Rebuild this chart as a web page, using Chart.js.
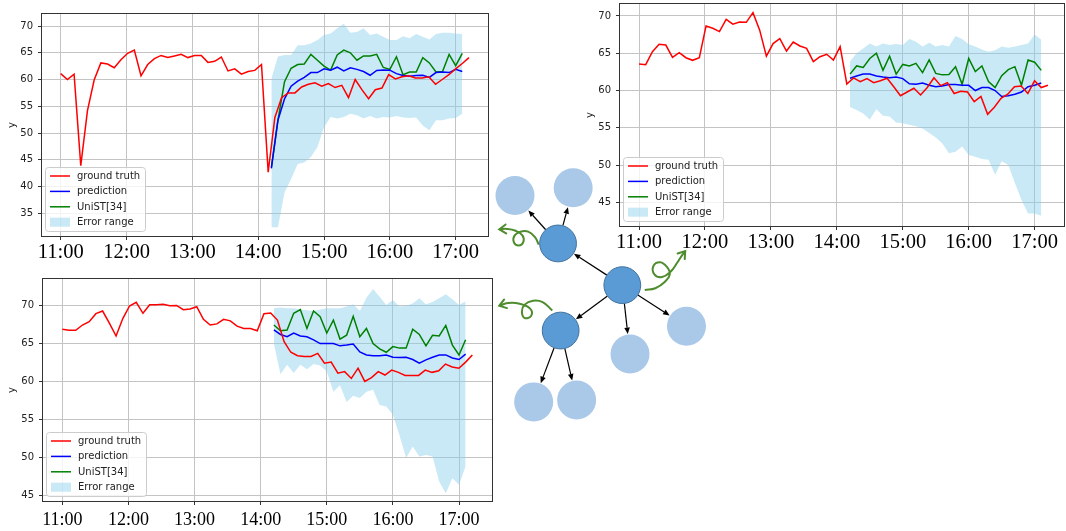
<!DOCTYPE html>
<html>
<head>
<meta charset="utf-8">
<script src="https://cdn.jsdelivr.net/npm/chart.js@4.4.0/dist/chart.umd.min.js"></script>
<style>
    body { margin: 0; background: #fff; }
    #page { position: relative; width: 1066px; height: 531px; overflow: hidden; }
    canvas { position: absolute; }
</style>
</head>
<body>
<div id="page">
    <canvas id="chart1" width="495" height="262" style="left:0;top:0"></canvas>
    <canvas id="chart2" width="486" height="260" style="left:580px;top:0"></canvas>
    <canvas id="chart3" width="500" height="261" style="left:0;top:270px"></canvas>
    <canvas id="tree" width="1066" height="531" style="left:0;top:0"></canvas>
</div>
<script>
'use strict';

var HOUR_TICKS = [0, 60, 120, 180, 240, 300, 360];
var HOUR_LABELS = ['11:00', '12:00', '13:00', '14:00', '15:00', '16:00', '17:00'];
var Y_TICKS_1 = [35, 40, 45, 50, 55, 60, 65, 70];
var Y_TICKS_2 = [45, 50, 55, 60, 65, 70];
var Y_TICKS_3 = [45, 50, 55, 60, 65, 70];

var SERIES_LABELS = ['ground truth', 'prediction', 'UniST[34]', 'Error range'];

// minutes after 11:00
var TRUTH_STEP = 6.1;
var PRED_START = 192;
var PRED_STEP = 6;

var truth1 = [61.1, 60.0, 61.0, 43.9, 54.2, 59.9, 63.1, 62.9, 62.2, 63.7, 64.9, 65.5, 60.7, 62.8, 63.9, 64.5,
    64.1, 64.4, 64.7, 64.1, 64.5, 64.5, 63.2, 63.4, 64.2, 61.6, 62.0, 61.0, 61.5, 61.7, 62.8, 42.7,
    52.9, 56.6, 57.5, 57.5, 58.6, 59.1, 59.4, 58.75, 59.25, 58.5, 58.9, 56.6, 60.0, 58.1, 56.4, 58.1,
    58.4, 60.9, 60.1, 60.5, 60.7, 60.3, 60.3, 60.5, 59.1, 60.0, 60.9, 62.0, 63.0, 64.1];
var pred1 = [43.4, 52.4, 56.4, 58.75, 59.7, 60.4, 61.3, 61.3, 62.0, 61.75, 62.3, 61.6, 62.2, 61.9, 61.5,
    60.8, 61.7, 61.8, 61.75, 61.1, 60.75, 60.6, 60.75, 60.8, 60.4, 61.3, 61.4, 61.3, 61.9, 61.5];
var unist1 = [43.6, 52.4, 59.6, 62.1, 62.8, 62.9, 64.7, 63.6, 62.5, 61.75, 64.6, 65.5, 65.0, 63.6, 64.4,
    64.4, 64.7, 62.25, 61.9, 64.25, 60.9, 61.4, 61.4, 64.1, 63.1, 61.4, 61.5, 64.7, 62.6, 64.9];
var upper1 = [60.2, 64.3, 64.6, 64.6, 66.4, 66.4, 66.75, 67.4, 68.3, 68.6, 69.6, 70.4, 68.75, 68.9, 69.6,
    68.3, 68.6, 68.0, 67.4, 67.4, 68.1, 67.7, 68.5, 68.0, 67.5, 68.5, 68.75, 68.75, 68.6, 68.5];
var lower1 = [32.4, 32.4, 38.9, 41.4, 44.2, 44.5, 45.5, 47.4, 51.1, 53.0, 52.7, 53.0, 53.6, 53.3, 52.7,
    53.2, 52.7, 53.0, 52.9, 53.2, 52.9, 52.8, 52.9, 51.4, 50.5, 52.4, 52.4, 52.7, 52.8, 53.6];

var truth2 = [63.56, 63.47, 65.2, 66.2, 66.1, 64.45, 65.08, 64.4, 64.05, 64.4, 68.66, 68.35, 67.9, 69.55,
    68.9, 69.2, 69.15, 70.45, 68.1, 64.6, 66.3, 66.96, 65.3, 66.5, 65.97, 65.66, 63.87, 64.54, 64.86, 64.1,
    65.88, 60.88, 61.7, 61.2, 61.6, 61.05, 61.3, 61.65, 60.5, 59.3, 59.8, 60.3, 59.4, 60.4, 61.7, 60.65,
    61.05, 59.6, 59.9, 59.8, 58.5, 59.2, 56.8, 57.75, 58.95, 59.5, 60.5, 60.6, 59.6, 61.3, 60.4, 60.7];
var pred2 = [61.65, 61.95, 62.2, 62.2, 61.95, 61.8, 61.7, 61.8, 61.6, 60.9, 60.85, 61.0, 60.7, 60.5, 60.6,
    60.8, 60.8, 60.7, 60.7, 60.0, 60.4, 60.4, 60.0, 59.2, 59.3, 59.5, 59.8, 60.5, 60.7, 61.0];
var unist2 = [62.2, 63.3, 63.1, 64.3, 65.0, 62.7, 64.6, 62.2, 63.5, 63.3, 63.65, 62.4, 64.1, 62.3, 62.1,
    62.15, 63.2, 60.85, 64.3, 62.55, 63.3, 61.2, 60.4, 62.0, 62.8, 63.2, 60.7, 64.1, 63.8, 62.7];
var upper2 = [63.9, 65.0, 65.65, 66.3, 65.9, 66.3, 66.1, 66.25, 66.1, 66.9, 66.55, 65.9, 66.4, 65.9, 66.1,
    65.9, 67.3, 66.9, 66.2, 65.9, 65.5, 65.2, 65.4, 65.9, 65.75, 65.9, 66.1, 66.3, 67.5, 66.8];
var lower2 = [57.8, 57.4, 56.9, 56.1, 57.5, 56.6, 56.5, 55.7, 55.6, 55.4, 55.2, 54.9, 54.3, 53.7, 52.9,
    51.6, 51.8, 52.5, 51.35, 51.1, 50.8, 50.7, 48.7, 50.5, 50.0, 47.6, 45.3, 43.5, 43.5, 43.2];

var truth3 = [66.9, 66.75, 66.75, 67.45, 67.9, 68.95, 69.3, 67.7, 66.0, 68.3, 69.96, 70.45, 69.0, 70.13,
    70.13, 70.2, 70.0, 70.04, 69.47, 69.56, 69.87, 68.2, 67.45, 67.6, 68.2, 68.0, 67.3, 67.0, 67.0, 66.7,
    68.95, 69.04, 68.1, 65.25, 63.85, 63.4, 63.3, 63.3, 63.7, 62.4, 62.55, 61.1, 61.3, 60.4, 61.75, 60.0,
    60.5, 61.3, 60.85, 61.5, 61.2, 60.8, 60.8, 60.8, 61.5, 61.2, 61.4, 62.3, 61.9, 61.75, 62.55, 63.5];
var pred3 = [66.8, 66.2, 65.9, 66.4, 66.0, 65.9, 65.5, 65.0, 65.0, 65.0, 64.7, 64.8, 64.95, 63.9, 63.5,
    63.4, 63.4, 63.5, 63.2, 63.15, 63.2, 62.9, 62.4, 62.85, 63.2, 63.5, 63.5, 63.1, 62.9, 63.6];
var unist3 = [67.45, 66.7, 66.8, 69.0, 69.5, 67.0, 69.3, 68.55, 66.4, 68.1, 65.6, 66.1, 68.6, 65.9, 67.0,
    65.0, 64.3, 63.85, 64.6, 64.4, 64.4, 66.9, 66.2, 64.7, 66.1, 66.0, 67.4, 64.8, 63.5, 65.5];
var upper3 = [69.65, 69.75, 69.65, 69.65, 69.5, 69.4, 69.3, 69.5, 69.65, 69.65, 69.65, 69.9, 70.2, 69.3,
    71.05, 72.2, 71.2, 70.1, 70.75, 69.9, 70.0, 70.3, 71.0, 70.2, 70.5, 71.0, 71.5, 70.85, 70.1, 70.6];
var lower3 = [65.0, 60.95, 62.2, 61.1, 62.2, 61.6, 62.3, 62.1, 61.3, 58.65, 59.5, 57.3, 58.1, 57.8, 58.65,
    58.9, 56.9, 56.7, 55.6, 52.9, 49.9, 51.4, 50.1, 50.3, 50.1, 46.8, 45.25, 47.2, 46.35, 48.8];

// tree diagram, in its own 1066 x 531 coordinate space
var NODE_X = [514.3, 574.7, 559, 625.7, 561.7, 692.3, 633.7, 533.7, 578.3];
var NODE_Y = [190, 181.7, 241.7, 286.7, 335.7, 331, 361, 412.7, 410.7];
var NODE_DARK = [false, false, true, true, true, false, false, false, false];
var EDGES = [[2, 0], [2, 1], [3, 2], [3, 4], [3, 6], [3, 5], [4, 7], [4, 8]];
var CURL_A = [[539, 243], [535, 235], [528, 229], [520, 229], [514, 233], [513, 240], [518, 244],
    [523, 240], [522, 233], [515, 228], [506, 226], [498, 226.5]];
var CURL_B = [[553, 314], [543, 305], [533, 303.5], [524, 308], [521.5, 315], [524, 322], [531, 320],
    [530, 312], [518, 306.5], [507, 306], [498, 309]];
var CURL_C = [[649, 292], [660, 290], [670, 283], [675, 275], [672, 267], [665, 262], [658, 266],
    [659, 275], [667, 278], [676, 272], [683, 262], [688, 254], [691, 250]];

var RED = '#ff0000';
var BLUE = '#0000ff';
var GREEN = '#008000';
var BAND = 'rgba(135, 206, 235, 0.45)';

Chart.defaults.font.family = "'DejaVu Sans', sans-serif";

function toPoints(values, start, step) {
    var points = [];
    for (var i = 0; i < values.length; i++) {
        points.push({x: start + i * step, y: values[i]});
    }
    return points;
}

var panelPlugin = {
    id: 'panelFrame',
    afterDatasetsDraw: function (chart) {
        var ctx = chart.ctx;
        var a = chart.chartArea;
        var sets = chart.data.datasets;
        ctx.save();

        // legend box, lower left like matplotlib
        var bx = a.left + 4.5;
        var by = a.bottom - 5.5 - 64;
        var bw = 100;
        var bh = 64;
        ctx.beginPath();
        ctx.roundRect(bx, by, bw, bh, 3);
        ctx.fillStyle = 'rgba(255, 255, 255, 0.8)';
        ctx.fill();
        ctx.strokeStyle = '#cccccc';
        ctx.lineWidth = 1;
        ctx.stroke();

        ctx.font = "10px 'DejaVu Sans'";
        ctx.textBaseline = 'middle';
        ctx.textAlign = 'left';
        for (var i = 0; i < 4; i++) {
            var rowY = by + 8.5 + i * 15.4;
            var ds = sets[i];
            if (i < 3) {
                ctx.strokeStyle = ds.borderColor;
                ctx.lineWidth = 1.5;
                ctx.beginPath();
                ctx.moveTo(bx + 4.5, rowY);
                ctx.lineTo(bx + 24.5, rowY);
                ctx.stroke();
            } else {
                ctx.fillStyle = ds.backgroundColor;
                ctx.fillRect(bx + 4.5, rowY - 4.5, 20, 9);
            }
            ctx.fillStyle = '#222';
            ctx.fillText(ds.label, bx + 31.5, rowY + 0.5);
        }

        ctx.strokeStyle = '#333';
        ctx.lineWidth = 1;
        ctx.strokeRect(Math.round(a.left) + 0.5, Math.round(a.top) + 0.5,
            Math.round(a.right - a.left) - 1, Math.round(a.bottom - a.top) - 1);
        ctx.restore();
    }
};

function createPanel(canvasId, series, layout) {
    var ctx = document.getElementById(canvasId).getContext('2d');

    return new Chart(ctx, {
        type: 'line',
        data: {
            datasets: [{
                label: SERIES_LABELS[0],
                data: toPoints(series.truth, 0, TRUTH_STEP),
                borderColor: RED,
                borderWidth: 1.5,
                pointRadius: 0,
                fill: false
            }, {
                label: SERIES_LABELS[1],
                data: toPoints(series.pred, PRED_START, PRED_STEP),
                borderColor: BLUE,
                borderWidth: 1.5,
                pointRadius: 0,
                fill: false
            }, {
                label: SERIES_LABELS[2],
                data: toPoints(series.unist, PRED_START, PRED_STEP),
                borderColor: GREEN,
                borderWidth: 1.5,
                pointRadius: 0,
                fill: false
            }, {
                label: SERIES_LABELS[3],
                data: toPoints(series.upper, PRED_START, PRED_STEP),
                borderColor: 'rgba(0,0,0,0)',
                backgroundColor: BAND,
                borderWidth: 0,
                pointRadius: 0,
                fill: '+1'
            }, {
                label: '',
                data: toPoints(series.lower, PRED_START, PRED_STEP),
                borderColor: 'rgba(0,0,0,0)',
                borderWidth: 0,
                pointRadius: 0,
                fill: false
            }]
        },
        options: {
            responsive: false,
            animation: false,
            layout: {padding: layout.padding},
            plugins: {
                legend: {display: false},
                tooltip: {enabled: false}
            },
            scales: {
                x: {
                    type: 'linear',
                    min: layout.xMin,
                    max: layout.xMax,
                    afterBuildTicks: function (scale) {
                        scale.ticks = HOUR_TICKS.map(function (v) { return {value: v}; });
                    },
                    afterFit: function (scale) {
                        scale.height = layout.axisHeight;
                        scale.paddingLeft = 0;
                        scale.paddingRight = 0;
                    },
                    grid: {color: '#c4c4c4', lineWidth: 1, tickLength: 3, tickColor: '#333'},
                    border: {display: false},
                    ticks: {
                        autoSkip: false,
                        maxRotation: 0,
                        padding: layout.labelPad,
                        color: '#000',
                        font: {family: "'Liberation Serif', 'Times New Roman', serif", size: layout.labelSize},
                        callback: function (value) {
                            var k = HOUR_TICKS.indexOf(value);
                            return k >= 0 ? HOUR_LABELS[k] : '';
                        }
                    }
                },
                y: {
                    type: 'linear',
                    min: layout.yMin,
                    max: layout.yMax,
                    afterBuildTicks: function (scale) {
                        scale.ticks = series.yTicks.map(function (v) { return {value: v}; });
                    },
                    afterFit: function (scale) {
                        scale.width = layout.axisWidth;
                        scale.paddingTop = 0;
                        scale.paddingBottom = 0;
                    },
                    grid: {color: '#c4c4c4', lineWidth: 1, tickLength: 3, tickColor: '#333'},
                    border: {display: false},
                    ticks: {
                        padding: 5,
                        color: '#222',
                        font: {size: 10},
                        callback: function (value) {
                            return String(value);
                        }
                    },
                    title: {
                        display: true,
                        text: 'y',
                        color: '#222',
                        font: {size: 10},
                        padding: {top: layout.titlePad, bottom: 0}
                    }
                }
            }
        },
        plugins: [panelPlugin]
    });
}

createPanel('chart1',
    {truth: truth1, pred: pred1, unist: unist1, upper: upper1, lower: lower1, yTicks: Y_TICKS_1},
    {xMin: -17.95, xMax: 390.35, yMin: 30.57, yMax: 72.43, axisWidth: 41, axisHeight: 25,
        padding: {left: 0, top: 13, right: 6, bottom: 0}, labelSize: 20.5, labelPad: 0, titlePad: 6});

createPanel('chart2',
    {truth: truth2, pred: pred2, unist: unist2, upper: upper2, lower: lower2, yTicks: Y_TICKS_2},
    {xMin: -18.2, xMax: 387.6, yMin: 41.69, yMax: 71.74, axisWidth: 39, axisHeight: 33,
        padding: {left: 0, top: 3, right: 1, bottom: 0}, labelSize: 20.5, labelPad: 0, titlePad: 4});

createPanel('chart3',
    {truth: truth3, pred: pred3, unist: unist3, upper: upper3, lower: lower3, yTicks: Y_TICKS_3},
    {xMin: -18.42, xMax: 390.85, yMin: 44.08, yMax: 73.66, axisWidth: 42, axisHeight: 29,
        padding: {left: 0, top: 8, right: 7, bottom: 0}, labelSize: 18, labelPad: 4, titlePad: 6});

function nodeRadius(i) {
    return NODE_DARK[i] ? 18.4 : 19.5;
}

function curlPoints(curl) {
    return curl.map(function (p) { return {x: p[0], y: p[1]}; });
}

var treePlugin = {
    id: 'treeArrows',
    beforeDatasetsDraw: function (chart) {
        var ctx = chart.ctx;
        var xs = chart.scales.x;
        var ys = chart.scales.y;
        ctx.save();
        ctx.strokeStyle = '#000';
        ctx.fillStyle = '#000';
        ctx.lineWidth = 1.2;
        for (var k = 0; k < EDGES.length; k++) {
            var a = EDGES[k][0];
            var b = EDGES[k][1];
            var x1 = xs.getPixelForValue(NODE_X[a]);
            var y1 = ys.getPixelForValue(NODE_Y[a]);
            var x2 = xs.getPixelForValue(NODE_X[b]);
            var y2 = ys.getPixelForValue(NODE_Y[b]);
            var len = Math.sqrt((x2 - x1) * (x2 - x1) + (y2 - y1) * (y2 - y1));
            var ux = (x2 - x1) / len;
            var uy = (y2 - y1) / len;
            var sx = x1 + ux * nodeRadius(a);
            var sy = y1 + uy * nodeRadius(a);
            var ex = x2 - ux * (nodeRadius(b) + 0.5);
            var ey = y2 - uy * (nodeRadius(b) + 0.5);
            var head = 6.5;
            var half = 2.8;
            ctx.beginPath();
            ctx.moveTo(sx, sy);
            ctx.lineTo(ex - ux * head, ey - uy * head);
            ctx.stroke();
            ctx.beginPath();
            ctx.moveTo(ex, ey);
            ctx.lineTo(ex - ux * head - uy * half, ey - uy * head + ux * half);
            ctx.lineTo(ex - ux * head + uy * half, ey - uy * head - ux * half);
            ctx.closePath();
            ctx.fill();
        }
        ctx.restore();
    },
    afterDatasetsDraw: function (chart) {
        var ctx = chart.ctx;
        var xs = chart.scales.x;
        var ys = chart.scales.y;
        ctx.save();
        ctx.strokeStyle = '#4e8c2e';
        ctx.lineWidth = 2;
        ctx.lineCap = 'round';
        [CURL_A, CURL_B, CURL_C].forEach(function (curl) {
            var p = curl[curl.length - 1];
            var q = curl[curl.length - 2];
            var px = xs.getPixelForValue(p[0]);
            var py = ys.getPixelForValue(p[1]);
            var ang = Math.atan2(py - ys.getPixelForValue(q[1]), px - xs.getPixelForValue(q[0]));
            ctx.beginPath();
            ctx.moveTo(px + 8 * Math.cos(ang + Math.PI - 0.6), py + 8 * Math.sin(ang + Math.PI - 0.6));
            ctx.lineTo(px, py);
            ctx.lineTo(px + 8 * Math.cos(ang + Math.PI + 0.6), py + 8 * Math.sin(ang + Math.PI + 0.6));
            ctx.stroke();
        });
        ctx.restore();
    }
};

function curlDataset(curl) {
    return {
        data: curlPoints(curl),
        showLine: true,
        tension: 0.45,
        borderColor: '#4e8c2e',
        borderWidth: 2,
        pointRadius: 0
    };
}

new Chart(document.getElementById('tree').getContext('2d'), {
    type: 'scatter',
    data: {
        datasets: [{
            data: NODE_X.map(function (x, i) { return {x: x, y: NODE_Y[i]}; }),
            pointRadius: function (c) { return nodeRadius(c.dataIndex); },
            pointBackgroundColor: function (c) { return NODE_DARK[c.dataIndex] ? '#5b9bd5' : '#aac8e8'; },
            pointBorderColor: function (c) { return NODE_DARK[c.dataIndex] ? '#41719c' : '#aac8e8'; },
            pointBorderWidth: function (c) { return NODE_DARK[c.dataIndex] ? 1 : 0; }
        }, curlDataset(CURL_A), curlDataset(CURL_B), curlDataset(CURL_C)]
    },
    options: {
        responsive: false,
        animation: false,
        layout: {padding: 0},
        plugins: {
            legend: {display: false},
            tooltip: {enabled: false}
        },
        scales: {
            x: {type: 'linear', min: 0, max: 1066, display: false},
            y: {type: 'linear', min: 0, max: 531, reverse: true, display: false}
        }
    },
    plugins: [treePlugin]
});
</script>
</body>
</html>
